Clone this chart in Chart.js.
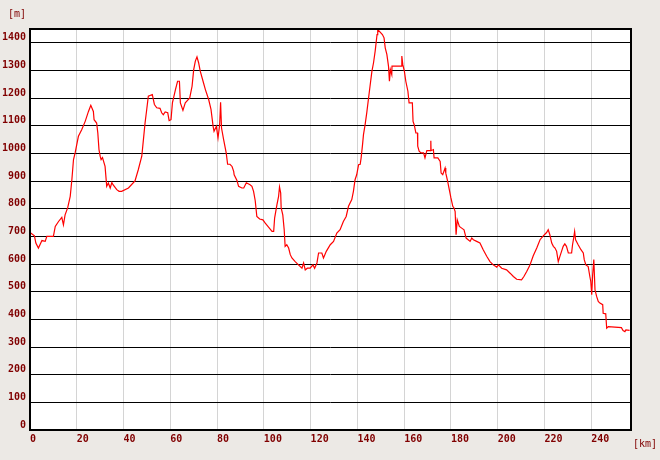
<!DOCTYPE html>
<html>
<head>
<meta charset="utf-8">
<script src="https://cdn.jsdelivr.net/npm/chart.js@4/dist/chart.umd.min.js"></script>
<style>
  html, body { margin: 0; padding: 0; background: #ece9e5; }
  #wrap { position: relative; width: 660px; height: 460px; }
  .unit { position: absolute; font: 10px "DejaVu Sans Mono", monospace; color: #800000; }
</style>
</head>
<body>
<div id="wrap">
  <canvas id="profile" width="660" height="460"></canvas>
  <div class="unit" style="left:8px; top:8px;">[m]</div>
  <div class="unit" style="left:633px; top:438px;">[km]</div>
</div>
<script>
// distance along the route (km)
const distanceKm = [
  0, 1.9, 2.5, 3.6, 5.1, 6.5, 7.2, 10, 10.8, 12.2, 13.6, 14.3, 15, 16.1, 17.2, 17.9, 18.6, 19.3,
  20.7, 22.1, 23.6, 25, 26, 27.1, 27.4, 28.5, 29, 29.5, 30, 30.4, 31, 32.1, 32.8, 33.5, 34.3, 35,
  35.5, 37.1, 38.1, 39.2, 42.1, 44.9, 46.3, 47.8, 48.5, 49.2, 49.9, 50.6, 52.3, 53.2, 54.2, 55.6,
  56.3, 57, 57.8, 58.9, 59.5, 60.3, 60.9, 62.2, 63.1, 63.9, 64.3, 65.4, 66.4, 68.3, 69.3, 70,
  70.7, 71.4, 72.1, 72.8, 74, 75, 76.4, 77.4, 78.3, 78.7, 79.7, 80.4, 81.1, 81.5, 81.9, 82.8,
  83.9, 84.5, 85.5, 86.4, 87.1, 87.3, 88.5, 89.2, 90.6, 91.4, 92.5, 94.1, 94.9, 95.6, 96.3, 97,
  98.2, 99.6, 100.6, 102, 103.5, 104.2, 104.6, 105.6, 106.3, 106.7, 107.2, 107.4, 108.1, 108.7,
  109.1, 109.8, 110.6, 111.3, 112, 113.4, 114.8, 116.3, 117, 117.7, 118.6, 119.8, 121, 121.7,
  122.7, 123.4, 124.8, 125.5, 126.7, 128.4, 129.8, 131.2, 132.6, 134, 135.2, 136.2, 137.6, 138.3,
  139, 139.7, 140.5, 141.2, 141.6, 142.2, 142.6, 143.3, 144, 144.7, 145.4, 146.2, 146.9, 147.6,
  148, 148.4, 148.7, 150.7, 151.4, 151.9, 152.6, 153.3, 153.7, 154.1, 154.7, 154.8, 158.7, 159,
  159.4, 160.1, 160.7, 161.6, 162.1, 163.5, 163.8, 164.3, 165, 165.7, 165.8, 166.4, 167.2, 168.3,
  168.9, 169.7, 171.3, 171.4, 171.5, 172.5, 172.8, 174.4, 175.4, 175.8, 176.5, 177.5, 177.8, 178.6,
  179.3, 180, 180.8, 181.3, 181.8, 182.2, 182.7, 183.6, 184.6, 185.6, 186.5, 188.2, 188.9, 189.6,
  191, 192.4, 193.8, 195.3, 196.7, 198.1, 199.6, 200.3, 201.7, 203.8, 205.3, 206.7, 208.1, 210.2,
  211.2, 212.4, 213.8, 215.2, 216.7, 218.1, 219.5, 220.9, 221.6, 222.3, 223.1, 223.8, 224.5, 225.2,
  225.9, 226.6, 227.3, 228, 228.7, 229.4, 230.2, 231.6, 232, 232.6, 232.9, 233.3, 234.4, 235.6,
  236.6, 237, 237.7, 238.7, 239.4, 239.8, 240.2, 240.6, 241.1, 241.6, 242.3, 243, 243.7, 244.9,
  245.1, 246.2, 246.6, 247.3, 250.1, 252.9, 253.6, 254.4, 254.8, 256.4
];

// elevation (m)
const elevationM = [
  714, 702, 676, 658, 685, 682, 700, 700, 736, 754, 769, 742, 778, 803, 845, 905, 978, 1002,
  1062, 1086, 1116, 1152, 1174, 1152, 1122, 1110, 1074, 1014, 990, 978, 985, 953, 881, 893, 875, 895,
  887, 869, 863, 863, 875, 901, 941, 990, 1050, 1110, 1158, 1207, 1213, 1177, 1165, 1163,
  1147, 1140, 1150, 1147, 1119, 1122, 1183, 1231, 1261, 1261, 1183, 1156, 1183, 1201, 1243, 1303,
  1334, 1349, 1328, 1298, 1261, 1231, 1195, 1159, 1098, 1080, 1098, 1056, 1104, 1185, 1092, 1050,
  1002, 961, 961, 953, 935, 923, 902, 881, 875, 875, 894, 887, 881, 863, 830, 772,
  763, 760, 748, 734, 718, 718, 766, 815, 845, 879, 857, 803, 778, 724,
  664, 670, 658, 634, 622, 609, 597, 585, 604, 579, 585, 585, 597, 585,
  604, 640, 640, 622, 646, 670, 682, 712, 724, 754, 772, 809, 833, 863,
  905, 923, 959, 961, 984, 1032, 1068, 1104, 1147, 1195, 1243, 1297, 1328, 1370,
  1400, 1430, 1448, 1430, 1418, 1382, 1358, 1316, 1261, 1303, 1285, 1316, 1316, 1352,
  1322, 1297, 1261, 1225, 1183, 1183, 1116, 1104, 1074, 1074, 1026, 1008, 1002, 1002,
  984, 1010, 1010, 1046, 1010, 1014, 984, 984, 971, 929, 923, 947, 929, 899,
  869, 839, 809, 803, 790, 706, 760, 736, 730, 724, 694, 682, 694, 688,
  682, 676, 652, 628, 609, 597, 589, 597, 585, 579, 567, 555, 545, 543,
  555, 573, 597, 630, 658, 688, 702, 714, 724, 706, 676, 664, 658, 646,
  609, 628, 646, 664, 673, 664, 640, 640, 670, 700, 718, 688, 670, 652,
  640, 616, 597, 591, 555, 537, 489, 561, 616, 507, 483, 465, 459, 453,
  422, 420, 368, 374, 372, 370, 360, 356, 362, 360
];

const xTicks = [0, 20, 40, 60, 80, 100, 120, 140, 160, 180, 200, 220, 240];
const yTicks = [0, 100, 200, 300, 400, 500, 600, 700, 800, 900, 1000, 1100, 1200, 1300, 1400];

const points = distanceKm.map((d, i) => ({ x: d, y: elevationM[i] }));

// white plot area + black frame around it
const plotFrame = {
    id: 'plotFrame',
    beforeDraw(chart) {
        const { ctx, chartArea: a } = chart;
        ctx.save();
        ctx.fillStyle = '#ffffff';
        ctx.fillRect(a.left, a.top, a.right - a.left, a.bottom - a.top);
        ctx.restore();
    },
    afterDraw(chart) {
        const { ctx, chartArea: a } = chart;
        ctx.save();
        ctx.strokeStyle = '#000000';
        ctx.lineWidth = 2;
        ctx.strokeRect(a.left, a.top, a.right - a.left, a.bottom - a.top);
        ctx.restore();
    }
};

const tickFont = { family: '"DejaVu Sans Mono", monospace', size: 10, weight: 'bold' };

new Chart(document.getElementById('profile'), {
    type: 'scatter',
    data: {
        datasets: [{
            data: points,
            showLine: true,
            borderColor: '#ff0000',
            borderWidth: 1.2,
            pointRadius: 0,
            tension: 0
        }]
    },
    options: {
        responsive: false,
        animation: false,
        layout: { padding: { top: 29, right: 29, left: 0, bottom: 0 } },
        plugins: { legend: { display: false }, tooltip: { enabled: false } },
        scales: {
            x: {
                type: 'linear',
                min: 0,
                max: 257,
                afterFit: s => { s.height = 30; },
                afterBuildTicks: s => { s.ticks = xTicks.map(v => ({ value: v })); },
                border: { display: false },
                grid: { color: '#d4d4d4', lineWidth: 1, drawTicks: false },
                ticks: {
                    autoSkip: false,
                    maxRotation: 0,
                    align: 'start',
                    padding: 3,
                    color: '#800000',
                    font: tickFont,
                    callback: v => String(v)
                }
            },
            y: {
                min: 0,
                max: 1450,
                afterFit: s => { s.width = 30; },
                afterBuildTicks: s => { s.ticks = yTicks.map(v => ({ value: v })); },
                border: { display: false },
                grid: { color: '#000000', lineWidth: 1, drawTicks: false },
                ticks: {
                    autoSkip: false,
                    padding: 4,
                    labelOffset: -5,
                    color: '#800000',
                    font: tickFont,
                    callback: v => String(v)
                }
            }
        }
    },
    plugins: [plotFrame]
});
</script>
</body>
</html>
